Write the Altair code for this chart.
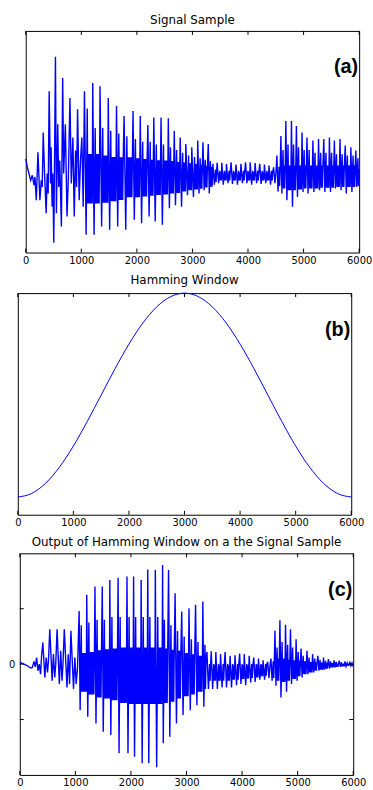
import altair as alt
import pandas as pd

# ---------------- data ----------------
x_ticks = [0, 1000, 2000, 3000, 4000, 5000, 6000]
titles = ["Signal Sample", "Hamming Window", "Output of Hamming Window on a the Signal Sample"]
panel_labels = ["(a)", "(b)", "(c)"]

# (a) signal sample: explicit turning points at the start
a_lead_s = [0, 30, 59, 89, 119, 149, 166, 190, 220, 255, 279, 297, 315, 339, 368, 386, 404,
            422, 446, 457, 475, 487, 505, 535, 552, 576, 594, 612, 642, 665, 683, 713, 743, 766,
            796, 820, 849, 873, 897, 915, 933, 962, 986, 1010, 1034]
a_lead_v = [0.38, 0.08, -0.15, -0.39, -0.21, -0.57, -0.27, -1.11, 0.62, -1.11, -0.39, -0.63,
            1.33, -0.15, -1.58, -0.15, -0.87, 2.82, -0.51, 0.80, -1.35, -0.15, -2.65,
            4.07, -1.58, 1.63, -0.63, 0.32, -2.06, 3.30, -0.15, 1.63, -1.70, -0.39,
            2.58, -0.51, 1.15, -1.70, 0.68, -0.63, 2.17, -1.11, 0.32, 1.15, -1.35]
# (a) pitch pulses: spike top, spike bottom, secondary peak, dense band top / bottom
a_pk_s = [1057, 1206, 1337, 1485, 1634, 1770, 1931, 2061, 2198, 2305, 2435, 2566, 2673, 2780, 2881, 2988, 3095, 3190, 3285,
          3368, 3445, 3528, 3612, 3695, 3784, 3873, 3956, 4039, 4128, 4211, 4295, 4378, 4461,
          4520,
          4592, 4681, 4782, 4871, 4972, 5061, 5168, 5269, 5364, 5465, 5554, 5655, 5750, 5851, 5940]
a_pk_v = [2.82, 3.12, 3.00, 2.58, 2.29, 1.93, 2.11, 1.93, 1.60, 1.87, 1.87, 1.85, 1.39, 1.15, 0.92, 0.80, 1.04, 0.98, 0.92,
          0.20, 0.24, 0.24, 0.20, 0.26, 0.18, 0.20, 0.26, 0.26, 0.23, 0.20, 0.18, 0.14, 0.08,
          0.50,
          1.21, 1.75, 1.75, 1.57, 1.33, 1.15, 1.04, 1.10, 1.10, 1.15, 1.04, 1.10, 0.86, 0.80, 0.68]
a_tr_s = [1087, 1230, 1366, 1510, 1655, 1800, 1954, 2085, 2220, 2330, 2459, 2585, 2695, 2804, 2911, 3018, 3119, 3210, 3303,
          3395, 3470, 3555, 3640, 3720, 3810, 3900, 3980, 4065, 4155, 4235, 4320, 4405, 4485,
          4540,
          4610, 4700, 4800, 4890, 4990, 5080, 5186, 5288, 5383, 5484, 5572, 5674, 5768, 5870, 5958]
a_tr_v = [-2.36, -2.36, -2.06, -2.18, -2.06, -2.18, -1.82, -1.94, -1.70, -1.88, -2.00, -1.40, -1.29, -1.35, -0.93, -0.99, -0.87, -0.75, -0.87,
          -0.55, -0.50, -0.55, -0.50, -0.52, -0.55, -0.50, -0.50, -0.55, -0.50, -0.52, -0.50, -0.55, -0.50,
          -0.80,
          -0.87, -1.11, -1.35, -0.99, -0.81, -0.87, -0.81, -0.75, -0.81, -0.81, -0.69, -0.75, -0.87, -0.81, -0.63]
a_sec_v = [2.2, 1.5, 1.5, 1.4, 1.3, 1.2, 1.1, 1.0, 1.0, 0.9, 0.9, 0.8, 0.7, 0.6, 0.5, 0.45, 0.4, 0.35, 0.3,
           0.0, -0.05, -0.05, -0.05, -0.05, -0.05, -0.05, -0.05, -0.05, -0.05, -0.05, -0.05, -0.05, -0.05,
           0.1,
           0.7, 0.9, 0.9, 0.8, 0.7, 0.7, 0.6, 0.6, 0.6, 0.6, 0.55, 0.55, 0.5, 0.5, 0.4]
a_hi_v = [0.56, 0.56, 0.5, 0.45, 0.44, 0.44, 0.4, 0.38, 0.35, 0.33, 0.32, 0.3, 0.27, 0.25, 0.22, 0.2, 0.17, 0.12, 0.1,
          -0.05, -0.1, -0.1, -0.1, -0.1, -0.1, -0.1, -0.1, -0.1, -0.1, -0.1, -0.1, -0.1, -0.1,
          0.1,
          0.14, 0.14, 0.14, 0.14, 0.14, 0.14, 0.14, 0.14, 0.14, 0.14, 0.14, 0.14, 0.14, 0.14, 0.14]
a_lo_v = [-1.23, -1.23, -1.2, -1.15, -1.1, -1.0, -1.0, -0.98, -0.95, -0.92, -0.9, -0.87, -0.85, -0.8, -0.75, -0.72, -0.7, -0.65, -0.62,
          -0.45, -0.4, -0.4, -0.4, -0.4, -0.4, -0.4, -0.4, -0.4, -0.4, -0.4, -0.4, -0.4, -0.4,
          -0.6,
          -0.69, -0.75, -0.75, -0.72, -0.69, -0.69, -0.69, -0.66, -0.66, -0.66, -0.63, -0.63, -0.63, -0.63, -0.6]

# (b) Hamming window, read every 250 samples
b_s = [0, 250, 500, 750, 1000, 1250, 1500, 1750, 2000, 2250, 2500, 2750, 3000,
       3250, 3500, 3750, 4000, 4250, 4500, 4750, 5000, 5250, 5500, 5750, 6000]
b_v = [0.080, 0.096, 0.142, 0.215, 0.310, 0.421, 0.540, 0.659, 0.770, 0.865, 0.938, 0.984, 1.000,
       0.984, 0.938, 0.865, 0.770, 0.659, 0.540, 0.421, 0.310, 0.215, 0.142, 0.096, 0.080]

# (c) windowed signal
c_lead_s = [0, 77, 137, 196, 226, 255, 279, 303, 326, 350, 374, 392, 415, 451, 475, 499, 516,
            540, 582, 605, 629, 647, 671, 712, 736, 760, 777, 801, 849, 872, 896, 920, 967, 991, 1015, 1039]
c_lead_v = [0.03, 0.0, -0.03, -0.07, -0.06, 0.05, -0.05, 0.12, -0.12, 0.0, -0.18, 0.15,
            0.39, -0.24, 0.12, -0.15, 0.06, 0.63, -0.30, 0.18, -0.24, 0.0,
            0.63, -0.36, 0.24, -0.30, 0.0, 0.63, -0.42, 0.18, -0.36, 0.60, -0.45, 0.12, -0.36, -0.06]
c_pk_s = [1068, 1205, 1353, 1484, 1620, 1769, 1929, 2048, 2184, 2303, 2439, 2570, 2677, 2795, 2914, 3045, 3163, 3294,
          3368, 3445, 3528, 3612, 3695, 3784, 3873, 3956, 4039, 4128, 4211, 4295, 4378, 4461,
          4520,
          4592, 4681, 4782, 4871, 4972, 5061, 5168, 5269, 5364, 5465, 5554, 5655, 5750, 5851, 5940]
c_pk_v = [0.96, 1.25, 1.40, 1.40, 1.52, 1.56, 1.58, 1.58, 1.52, 1.71, 1.70, 1.79, 1.70, 1.28, 0.95, 1.01, 1.07, 1.13,
          0.22, 0.23, 0.22, 0.18, 0.22, 0.15, 0.16, 0.19, 0.18, 0.15, 0.12, 0.10, 0.07, 0.04,
          0.10,
          0.60, 0.79, 0.71, 0.63, 0.45, 0.28, 0.24, 0.18, 0.15, 0.12, 0.09, 0.07, 0.06, 0.05, 0.03]
c_tr_s = [1086, 1223, 1371, 1502, 1638, 1786, 1947, 2065, 2202, 2321, 2463, 2582, 2700, 2819, 2938, 3068, 3187, 3312,
          3395, 3470, 3555, 3640, 3720, 3810, 3900, 3980, 4065, 4155, 4235, 4320, 4405, 4485,
          4540,
          4610, 4700, 4800, 4890, 4990, 5080, 5186, 5288, 5383, 5484, 5572, 5674, 5768, 5870, 5958]
c_tr_v = [-0.83, -0.95, -1.07, -1.22, -1.28, -1.61, -1.61, -1.67, -1.79, -1.79, -1.86, -1.43, -1.31, -1.07, -0.92, -0.83, -0.74, -0.77,
          -0.45, -0.45, -0.45, -0.42, -0.42, -0.42, -0.38, -0.36, -0.38, -0.33, -0.32, -0.28, -0.28, -0.25,
          -0.30,
          -0.39, -0.60, -0.50, -0.36, -0.30, -0.24, -0.18, -0.15, -0.12, -0.10, -0.08, -0.06, -0.05, -0.04, -0.03]
c_sec_v = [0.7, 0.75, 0.8, 0.8, 0.85, 0.85, 0.85, 0.85, 0.85, 0.85, 0.85, 0.8, 0.7, 0.6, 0.5, 0.45, 0.4, 0.35,
           0.0, 0.0, 0.0, 0.0, 0.0, 0.0, 0.0, 0.0, 0.0, 0.0, 0.0, 0.0, 0.0, 0.0,
           0.05,
           0.3, 0.4, 0.35, 0.3, 0.22, 0.15, 0.12, 0.1, 0.08, 0.06, 0.05, 0.04, 0.03, 0.02, 0.02]
c_hi_v = [0.2, 0.22, 0.25, 0.27, 0.28, 0.3, 0.3, 0.3, 0.3, 0.3, 0.3, 0.28, 0.26, 0.24, 0.2, 0.18, 0.15, 0.12,
          0.0, -0.02, -0.02, -0.02, -0.02, -0.02, -0.02, -0.02, -0.02, -0.01, -0.01, -0.01, 0.0, 0.0,
          0.05,
          0.1, 0.1, 0.08, 0.07, 0.06, 0.05, 0.04, 0.03, 0.03, 0.02, 0.02, 0.01, 0.01, 0.01, 0.0]
c_lo_v = [-0.5, -0.55, -0.6, -0.62, -0.65, -0.7, -0.72, -0.72, -0.72, -0.72, -0.72, -0.7, -0.68, -0.62, -0.58, -0.55, -0.5, -0.45,
          -0.3, -0.3, -0.3, -0.3, -0.3, -0.28, -0.28, -0.27, -0.26, -0.25, -0.24, -0.22, -0.21, -0.2,
          -0.25,
          -0.3, -0.32, -0.3, -0.27, -0.22, -0.18, -0.15, -0.12, -0.1, -0.08, -0.06, -0.05, -0.04, -0.03, -0.02]

END_S = 6000

# ---------------- build point tables ----------------
def build(lead_s, lead_v, pk_s, pk_v, tr_s, tr_v, sec_v, hi_v, lo_v, step=10):
    pts = list(zip(lead_s, lead_v))
    n = len(pk_s)
    for i in range(n):
        pts.append((pk_s[i], pk_v[i]))
        pts.append((tr_s[i], tr_v[i]))
        nxt = pk_s[i + 1] if i + 1 < n else END_S
        s = tr_s[i] + 20
        if s < nxt - 6:
            pts.append((s, sec_v[i]))
        s += step
        k = 0
        while s < nxt - 6:
            pts.append((s, lo_v[i] if k % 2 == 0 else hi_v[i]))
            s += step
            k += 1
    pts.append((END_S, 0.0))
    return pd.DataFrame({"s": [p[0] for p in pts], "v": [p[1] for p in pts],
                         "o": list(range(len(pts)))})

df_a = build(a_lead_s, a_lead_v, a_pk_s, a_pk_v, a_tr_s, a_tr_v, a_sec_v, a_hi_v, a_lo_v)
df_b = pd.DataFrame({"s": b_s, "v": b_v, "o": list(range(len(b_s)))})
df_c = build(c_lead_s, c_lead_v, c_pk_s, c_pk_v, c_tr_s, c_tr_v, c_sec_v, c_hi_v, c_lo_v)

W, H = 337, 224
BLUE = "#0000ff"
TICK = 4


def panel(df, idx, ydom, left_extent, yticks=None, interp="linear", sw=1.4):
    xscale = alt.Scale(domain=[0, 6000], nice=False, zero=False)
    yscale = alt.Scale(domain=ydom, nice=False, zero=False)
    xaxis = alt.Axis(values=x_ticks, title=None, grid=False, ticks=False, domain=False,
                     labelFontSize=10, labelFont="DejaVu Sans", labelColor="#000",
                     labelPadding=3, labelFlush=False, labelOverlap=False, format="d")
    if yticks is None:
        yaxis = alt.Axis(title=None, grid=False, ticks=False, domain=False, labels=False,
                         minExtent=left_extent, maxExtent=left_extent)
    else:
        yaxis = alt.Axis(title=None, grid=False, ticks=False, domain=False, values=[0],
                         labelFontSize=10, labelFont="DejaVu Sans", labelColor="#000",
                         labelPadding=5, labelExpr="'0'",
                         minExtent=left_extent, maxExtent=left_extent)

    line = alt.Chart(df).mark_line(color=BLUE, strokeWidth=sw, interpolate=interp).encode(
        x=alt.X("s:Q", scale=xscale, axis=xaxis),
        y=alt.Y("v:Q", scale=yscale, axis=yaxis),
        order="o:Q",
    )
    tdf = pd.DataFrame({"s": x_ticks})
    top_ticks = alt.Chart(tdf).mark_rule(color="#000", strokeWidth=1).encode(
        x=alt.X("s:Q", scale=xscale), y=alt.value(0), y2=alt.value(TICK))
    bot_ticks = alt.Chart(tdf).mark_rule(color="#000", strokeWidth=1).encode(
        x=alt.X("s:Q", scale=xscale), y=alt.value(H - TICK), y2=alt.value(H))
    layers = [line, top_ticks, bot_ticks]
    if yticks is not None:
        ydf = pd.DataFrame({"v": yticks})
        layers.append(alt.Chart(ydf).mark_rule(color="#000", strokeWidth=1).encode(
            y=alt.Y("v:Q", scale=yscale), x=alt.value(0), x2=alt.value(TICK)))
        layers.append(alt.Chart(ydf).mark_rule(color="#000", strokeWidth=1).encode(
            y=alt.Y("v:Q", scale=yscale), x=alt.value(W - TICK), x2=alt.value(W)))
    lab = alt.Chart(pd.DataFrame({"t": [panel_labels[idx]]})).mark_text(
        font="Liberation Sans", fontWeight="bold", fontSize=20, align="right",
        baseline="middle", color="#000").encode(
        text="t:N", x=alt.value(W - 1), y=alt.value(37))
    layers.append(lab)
    return alt.layer(*layers).properties(
        width=W, height=H,
        title=alt.TitleParams(titles[idx], fontSize=12, font="DejaVu Sans", fontWeight="normal",
                              color="#000", frame="group", anchor="middle", baseline="alphabetic",
                              offset=-5),
    )


def spacer(w):
    return alt.Chart(pd.DataFrame({"z": [0]})).mark_point(opacity=0).properties(
        width=w, height=1, view=alt.ViewBackground(stroke="transparent", fill="transparent"))


pa = panel(df_a, 0, [-3, 5], 8)
pb = panel(df_b, 1, [0, 1], 8, interp="monotone", sw=1)
pc = panel(df_c, 2, [-2, 2], 12, yticks=[-1, 0, 1])

row_a = alt.hconcat(spacer(15), pa, spacing=0)
row_b = alt.hconcat(spacer(7), pb, spacing=0)
row_c = alt.hconcat(spacer(5), pc, spacing=0)

chart = alt.concat(row_a, row_b, row_c, columns=1, spacing=7).properties(
    padding={"left": 0, "top": 9, "right": 0, "bottom": 0},
    background="white",
).configure_view(stroke="#000", strokeWidth=1)

chart.save("out.html", embed_options={"renderer": "svg", "actions": False})
